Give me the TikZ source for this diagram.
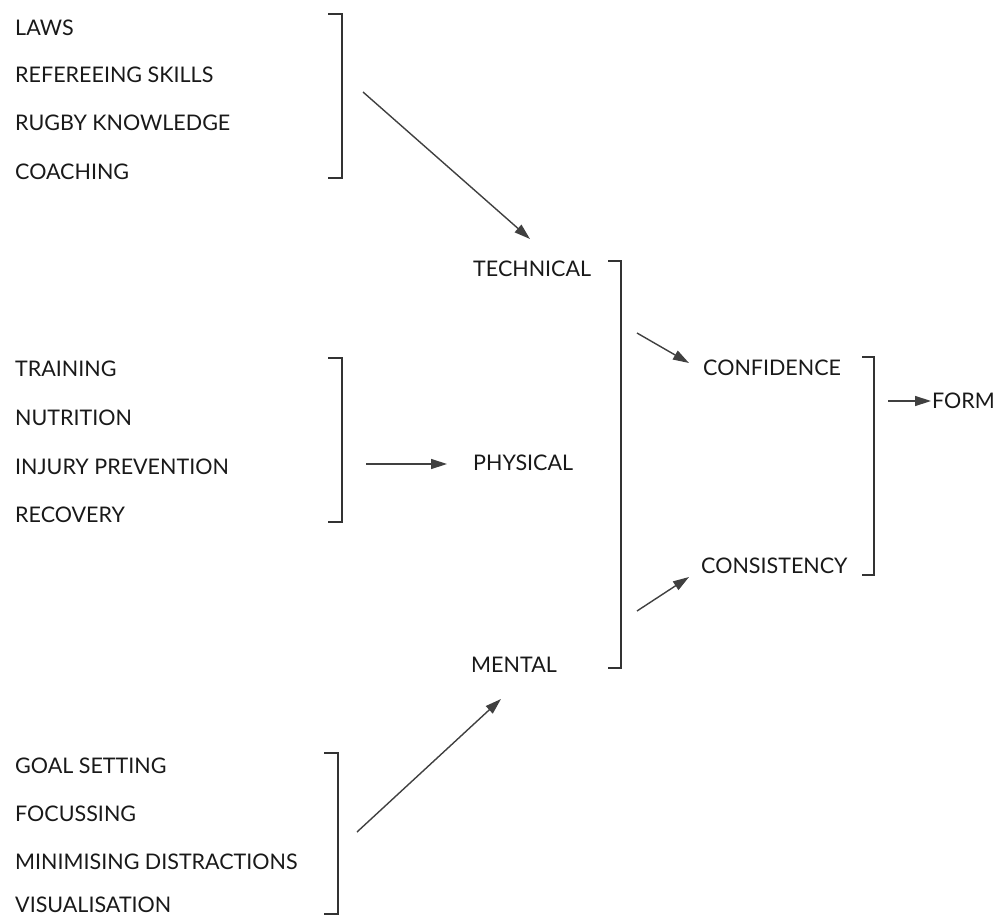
\documentclass[tikz,border=0pt]{standalone}
\usepackage{fontspec}
\setmainfont{Lato}
\usepackage{tikz}
\usetikzlibrary{arrows.meta}

\tikzset{
  item/.style={anchor=west,inner sep=0pt,text=black!90,font=\fontsize{21.5}{24}\selectfont},
  brk/.style={draw=black!80,line width=1.3pt},
  link/.style={draw=black!75,line width=1.4pt,-{Triangle[length=16pt,width=10pt]}}
}

\begin{document}
\begin{tikzpicture}[x=1pt,y=-1pt]
  \useasboundingbox (0,0) rectangle (997,918);
  % technical group
  \node[item] (laws) at (15,28) {LAWS};
  \node[item] (ref) at (15,75) {REFEREEING SKILLS};
  \node[item] (rugby) at (15,123) {RUGBY KNOWLEDGE};
  \node[item] (coach) at (15,172) {COACHING};
  % physical group
  \node[item] (train) at (15,369) {TRAINING};
  \node[item] (nutr) at (15,418) {NUTRITION};
  \node[item] (injury) at (15,467) {INJURY PREVENTION};
  \node[item] (recov) at (15,515) {RECOVERY};
  % mental group
  \node[item] (goal) at (15,766) {GOAL SETTING};
  \node[item] (focus) at (15,814) {FOCUSSING};
  \node[item] (minim) at (15,862) {MINIMISING DISTRACTIONS};
  \node[item] (visual) at (15,905) {VISUALISATION};
  % middle and right
  \node[item] (tech) at (473,269) {TECHNICAL};
  \node[item] (phys) at (473,463) {PHYSICAL};
  \node[item] (ment) at (471,665) {MENTAL};
  \node[item] (conf) at (703,368) {CONFIDENCE};
  \node[item] (cons) at (701,566) {CONSISTENCY};
  \node[item] (form) at (932,401) {FORM};

  % brackets
  \draw[brk] (328,14) -- (342,14) -- (342,178) -- (328,178);
  \draw[brk] (328,358) -- (342,358) -- (342,522) -- (328,522);
  \draw[brk] (324,753) -- (338,753) -- (338,914) -- (324,914);
  \draw[brk] (608,261) -- (621,261) -- (621,668) -- (608,668);
  \draw[brk] (862,357) -- (874,357) -- (874,575) -- (862,575);

  % arrow ends
  \coordinate (techOut) at (363,92);
  \coordinate (techIn) at (530,239);
  \coordinate (physOut) at (366,464);
  \coordinate (physIn) at (447,464);
  \coordinate (mentOut) at (357,832);
  \coordinate (mentIn) at (501,699);
  \coordinate (confOut) at (637,333);
  \coordinate (confIn) at (689,363);
  \coordinate (consOut) at (637,611);
  \coordinate (consIn) at (689,577);
  \coordinate (formOut) at (888,401);
  \coordinate (formIn) at (931,401);

  \draw[link] (techOut) -- (techIn);
  \draw[link] (physOut) -- (physIn);
  \draw[link] (mentOut) -- (mentIn);
  \draw[link] (confOut) -- (confIn);
  \draw[link] (consOut) -- (consIn);
  \draw[link] (formOut) -- (formIn);
\end{tikzpicture}
\end{document}
